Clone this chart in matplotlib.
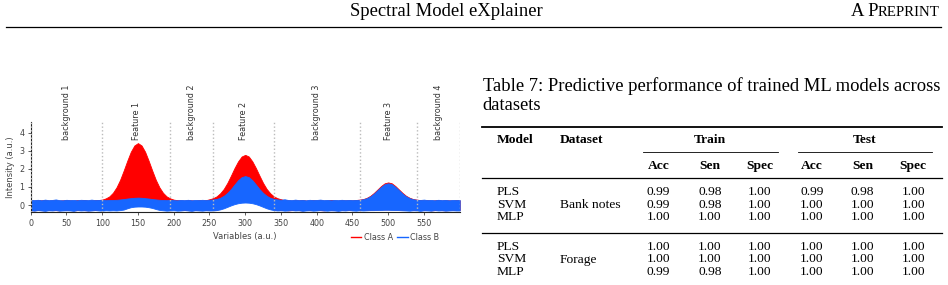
import matplotlib
matplotlib.use('Agg')
import matplotlib.pyplot as plt
from matplotlib.lines import Line2D
import numpy as np

W, H = 948, 285

# spectra: envelope of the Class A / Class B curves, read every 5 variables
variables = np.arange(0, 601, 5)

class_a_max = [
    0.26, 0.25, 0.27, 0.26, 0.28, 0.25, 0.26, 0.27, 0.25, 0.26,
    0.27, 0.26, 0.25, 0.27, 0.26, 0.28, 0.25, 0.26, 0.27, 0.28,
    0.30, 0.37, 0.48, 0.68, 0.98, 1.39, 1.90, 2.44, 2.94, 3.29,
    3.42, 3.29, 2.94, 2.44, 1.90, 1.39, 0.98, 0.68, 0.48, 0.37,
    0.30, 0.27, 0.26, 0.25, 0.27, 0.26, 0.25, 0.27, 0.26, 0.27,
    0.32, 0.38, 0.48, 0.65, 0.89, 1.22, 1.62, 2.04, 2.41, 2.68,
    2.77, 2.68, 2.41, 2.04, 1.62, 1.22, 0.89, 0.65, 0.48, 0.38,
    0.32, 0.27, 0.26, 0.25, 0.27, 0.26, 0.28, 0.25, 0.26, 0.27,
    0.26, 0.27, 0.25, 0.26, 0.28, 0.26, 0.25, 0.27, 0.26, 0.27,
    0.26, 0.28, 0.30, 0.33, 0.40, 0.51, 0.67, 0.86, 1.05, 1.20,
    1.25, 1.20, 1.05, 0.86, 0.67, 0.51, 0.40, 0.33, 0.30, 0.27,
    0.26, 0.27, 0.25, 0.26, 0.28, 0.25, 0.27, 0.26, 0.25, 0.27,
    0.26]
class_a_min = [
    -0.28, -0.29, -0.27, -0.28, -0.29, -0.27, -0.28, -0.28, -0.29, -0.27,
    -0.28, -0.27, -0.29, -0.28, -0.27, -0.28, -0.29, -0.28, -0.27, -0.26,
    -0.22, -0.20, -0.15, -0.08, 0.00, 0.08, 0.15, 0.22, 0.27, 0.30,
    0.31, 0.30, 0.27, 0.22, 0.15, 0.08, 0.00, -0.08, -0.15, -0.20,
    -0.22, -0.26, -0.28, -0.27, -0.28, -0.29, -0.27, -0.28, -0.28, -0.27,
    -0.28, -0.27, -0.25, -0.18, -0.08, 0.05, 0.18, 0.32, 0.44, 0.52,
    0.55, 0.52, 0.44, 0.32, 0.18, 0.05, -0.08, -0.18, -0.25, -0.27,
    -0.28, -0.27, -0.29, -0.28, -0.27, -0.28, -0.29, -0.27, -0.28, -0.28,
    -0.27, -0.28, -0.29, -0.27, -0.28, -0.28, -0.29, -0.27, -0.28, -0.27,
    -0.28, -0.27, -0.28, -0.27, -0.26, -0.26, -0.25, -0.25, -0.24, -0.24,
    -0.24, -0.24, -0.25, -0.25, -0.26, -0.26, -0.27, -0.28, -0.27, -0.28,
    -0.28, -0.27, -0.29, -0.28, -0.27, -0.28, -0.29, -0.28, -0.27, -0.28,
    -0.28]
class_b_max = [
    0.28, 0.27, 0.29, 0.26, 0.30, 0.27, 0.28, 0.31, 0.27, 0.26,
    0.29, 0.27, 0.28, 0.26, 0.29, 0.28, 0.27, 0.30, 0.27, 0.28,
    0.29, 0.27, 0.28, 0.28, 0.29, 0.31, 0.33, 0.36, 0.38, 0.40,
    0.41, 0.40, 0.38, 0.36, 0.33, 0.31, 0.29, 0.28, 0.27, 0.29,
    0.27, 0.26, 0.28, 0.27, 0.29, 0.26, 0.28, 0.27, 0.29, 0.27,
    0.29, 0.31, 0.34, 0.40, 0.51, 0.67, 0.88, 1.13, 1.37, 1.54,
    1.60, 1.54, 1.37, 1.13, 0.88, 0.67, 0.51, 0.40, 0.34, 0.31,
    0.29, 0.32, 0.28, 0.27, 0.30, 0.27, 0.28, 0.26, 0.29, 0.27,
    0.28, 0.30, 0.27, 0.28, 0.26, 0.28, 0.27, 0.29, 0.27, 0.28,
    0.27, 0.28, 0.29, 0.32, 0.38, 0.48, 0.63, 0.82, 1.00, 1.15,
    1.20, 1.15, 1.00, 0.82, 0.63, 0.48, 0.38, 0.32, 0.29, 0.28,
    0.30, 0.27, 0.28, 0.26, 0.29, 0.27, 0.28, 0.26, 0.28, 0.27,
    0.28]
class_b_min = [
    -0.29, -0.31, -0.28, -0.30, -0.32, -0.29, -0.30, -0.28, -0.31, -0.30,
    -0.29, -0.30, -0.32, -0.28, -0.30, -0.29, -0.31, -0.30, -0.28, -0.30,
    -0.31, -0.29, -0.30, -0.29, -0.30, -0.28, -0.25, -0.18, -0.12, -0.09,
    -0.08, -0.08, -0.09, -0.12, -0.16, -0.22, -0.27, -0.29, -0.31, -0.30,
    -0.29, -0.31, -0.30, -0.28, -0.30, -0.32, -0.29, -0.30, -0.31, -0.29,
    -0.30, -0.30, -0.28, -0.24, -0.18, -0.10, -0.02, 0.05, 0.10, 0.13,
    0.14, 0.13, 0.10, 0.05, -0.02, -0.10, -0.18, -0.24, -0.28, -0.30,
    -0.29, -0.31, -0.30, -0.28, -0.30, -0.29, -0.32, -0.30, -0.29, -0.31,
    -0.30, -0.28, -0.30, -0.31, -0.29, -0.30, -0.32, -0.29, -0.30, -0.28,
    -0.30, -0.31, -0.29, -0.30, -0.29, -0.28, -0.28, -0.27, -0.27, -0.26,
    -0.26, -0.27, -0.27, -0.28, -0.29, -0.30, -0.31, -0.29, -0.30, -0.32,
    -0.29, -0.30, -0.31, -0.28, -0.30, -0.29, -0.31, -0.30, -0.29, -0.30,
    -0.30]

region_bounds = [0, 100, 195, 255, 340, 460, 540, 600]
region_names = ['background 1', 'Feature 1', 'background 2', 'Feature 2',
                'background 3', 'Feature 3', 'background 4']

# table 7
models = ['PLS', 'SVM', 'MLP']
datasets = ['Bank notes', 'Forage']
metrics = ['Acc', 'Sen', 'Spec']
scores = {
    'Bank notes': [[0.99, 0.98, 1.00, 0.99, 0.98, 1.00],
                   [0.99, 0.98, 1.00, 1.00, 1.00, 1.00],
                   [1.00, 1.00, 1.00, 1.00, 1.00, 1.00]],
    'Forage': [[1.00, 1.00, 1.00, 1.00, 1.00, 1.00],
               [1.00, 1.00, 1.00, 1.00, 1.00, 1.00],
               [0.99, 0.98, 1.00, 1.00, 1.00, 1.00]],
}

RED = '#ff0000'
BLUE = '#1766ff'
GREY = '#444444'
SERIF = 'Liberation Serif'


def fx(x):
    return x / W


def fy(y):
    return 1 - y / H


def put(fig, x, y, s, **kw):
    kw.setdefault('family', SERIF)
    kw.setdefault('va', 'baseline')
    return fig.text(fx(x), fy(y), s, **kw)


def hline(fig, x0, x1, y, lw):
    fig.add_artist(Line2D([fx(x0), fx(x1)], [fy(y), fy(y)], color='black', lw=lw))


def draw_chart(fig):
    ax = fig.add_axes([fx(30.7), fy(212.3), fx(459.7 - 30.7), (212.3 - 121.7) / H])
    ax.fill_between(variables, class_a_min, class_a_max, color=RED, lw=0.6,
                    edgecolor=RED, zorder=1)
    ax.fill_between(variables, class_b_min, class_b_max, color=BLUE, lw=0.6,
                    edgecolor=BLUE, zorder=2)
    for b in region_bounds:
        ax.axvline(b, color='#bbbbbb', ls=':', lw=1.0, zorder=3)
    for i, name in enumerate(region_names):
        mid = (region_bounds[i] + region_bounds[i + 1]) / 2
        ax.text(mid, 3.6, name, rotation=90, ha='center', va='bottom',
                fontsize=5.8, color='#333333', clip_on=False)

    ax.set_xlim(0, 600)
    ax.set_ylim(-0.4, 4.6)
    ax.set_xticks(range(0, 551, 50))
    ax.set_yticks(range(0, 5))
    ax.tick_params(labelsize=5.8, colors=GREY, length=2.5, width=0.6, pad=2)
    for s in ['top', 'right']:
        ax.spines[s].set_visible(False)
    for s in ['left', 'bottom']:
        ax.spines[s].set_color('#222222')
        ax.spines[s].set_linewidth(0.8)
    ax.set_xlabel('Variables (a.u.)', fontsize=6, color=GREY, labelpad=3)
    ax.set_ylabel('Intensity (a.u.)', fontsize=6, color=GREY, labelpad=3)

    handles = [Line2D([], [], color=RED, lw=1), Line2D([], [], color=BLUE, lw=1)]
    leg = fig.legend(handles, ['Class A', 'Class B'], loc='center left',
                     bbox_to_anchor=(fx(351), fy(237)), ncol=2, frameon=False,
                     fontsize=5.8, handlelength=1.3, handletextpad=0.3,
                     columnspacing=0.5, borderpad=0, borderaxespad=0)
    for t in leg.get_texts():
        t.set_color(GREY)


def draw_page(fig):
    # running head
    put(fig, 446, 16, 'Spectral Model eXplainer', fontsize=13.4, ha='center')
    rep = put(fig, 940, 16, 'REPRINT', fontsize=10.7, ha='right')
    fig.canvas.draw()
    x0 = rep.get_window_extent().x0
    fig.text(x0 / W, fy(16), 'A P', family=SERIF, fontsize=13.4, ha='right',
             va='baseline')
    hline(fig, 6, 941, 27, 0.9)

    # caption
    put(fig, 482.7, 90.7,
        'Table 7: Predictive performance of trained ML models across',
        fontsize=13.4)
    put(fig, 482.7, 110, 'datasets', fontsize=13.4)

    fs = 9.7
    hline(fig, 481.7, 941.7, 127.3, 1.3)
    put(fig, 496.7, 143.3, 'Model', fontsize=fs, weight='bold')
    put(fig, 560, 143.3, 'Dataset', fontsize=fs, weight='bold')
    put(fig, 710, 143.3, 'Train', fontsize=fs, weight='bold', ha='center')
    put(fig, 865, 143.3, 'Test', fontsize=fs, weight='bold', ha='center')
    hline(fig, 643, 778, 151.7, 0.6)
    hline(fig, 798, 931.7, 151.7, 0.6)
    cols = [658.3, 710, 760, 811.7, 862.7, 913.3]
    for i, c in enumerate(cols):
        put(fig, c, 169.3, metrics[i % 3], fontsize=fs, weight='bold', ha='center')
    hline(fig, 481.7, 941.7, 177.5, 0.9)

    row_y = [[195, 207.5, 220], [250, 262.5, 275]]
    for d, name in enumerate(datasets):
        for r, m in enumerate(models):
            y = row_y[d][r]
            put(fig, 496.7, y, m, fontsize=fs)
            for c, v in zip(cols, scores[name][r]):
                put(fig, c, y, '%.2f' % v, fontsize=fs, ha='center')
        put(fig, 560, row_y[d][1], name, fontsize=fs)
        if d == 0:
            hline(fig, 481.7, 941.7, 232.7, 0.9)


def main():
    fig = plt.figure(figsize=(W / 100, H / 100), dpi=100)
    draw_chart(fig)
    draw_page(fig)
    fig.savefig('out.png', dpi=100)


if __name__ == '__main__':
    main()
